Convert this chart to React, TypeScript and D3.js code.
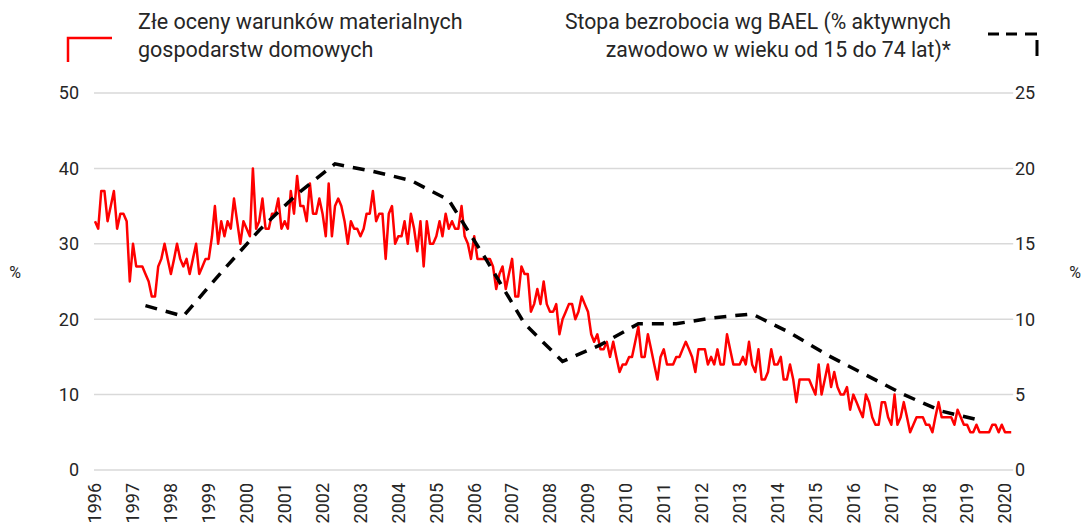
import * as d3 from "d3";
import { useEffect, useRef } from "react";

// monthly, Jan 1996 .. Mar 2020 (% of households rating their material situation as bad)
const badRatings: number[] = [
  33, 32, 37, 37, 33, 35, 37, 32, 34, 34, 33, 25,
  30, 27, 27, 27, 26, 25, 23, 23, 27, 28, 30, 28,
  26, 28, 30, 28, 27, 28, 26, 28, 30, 26, 27, 28,
  28, 31, 35, 30, 33, 31, 33, 32, 36, 33, 30, 33,
  32, 31, 40, 32, 33, 36, 32, 32, 34, 34, 36, 32,
  33, 32, 37, 34, 39, 35, 35, 33, 38, 34, 34, 36,
  34, 31, 38, 31, 35, 36, 35, 33, 30, 33, 32, 32,
  31, 32, 34, 34, 37, 33, 34, 34, 28, 34, 35, 30,
  31, 31, 33, 30, 34, 32, 29, 33, 27, 33, 30, 30,
  31, 33, 31, 34, 32, 33, 32, 32, 35, 31, 30, 28,
  31, 28, 28, 28, 28, 28, 27, 24, 26, 27, 24, 26,
  28, 23, 23, 27, 26, 26, 21, 22, 24, 22, 25, 22,
  21, 21, 22, 18, 20, 21, 22, 22, 20, 21, 23, 22,
  21, 18, 17, 18, 16, 16, 17, 15, 17, 15, 13, 14,
  14, 15, 15, 17, 19, 15, 15, 18, 16, 14, 12, 15,
  16, 14, 14, 14, 15, 15, 16, 17, 16, 15, 13, 16,
  16, 16, 14, 15, 14, 16, 14, 14, 18, 16, 14, 14,
  14, 15, 14, 17, 14, 13, 16, 12, 12, 13, 16, 14,
  14, 15, 12, 12, 14, 12, 9, 12, 12, 12, 12, 11,
  10, 14, 10, 12, 14, 11, 13, 11, 10, 10, 11, 8,
  10, 9, 8, 7, 10, 9, 7, 6, 6, 9, 9, 7,
  6, 10, 6, 7, 9, 7, 5, 6, 7, 7, 7, 6,
  6, 5, 7, 9, 7, 7, 7, 7, 6, 8, 7, 6,
  6, 5, 5, 6, 5, 5, 5, 5, 6, 6, 5, 6,
  5, 5, 5,
];

// annual LFS (BAEL) unemployment rate, %
const lfsYears = [1997, 1998, 1999, 2000, 2001, 2002, 2003, 2004, 2005, 2006, 2007, 2008, 2009, 2010, 2011, 2012, 2013, 2014, 2015, 2016, 2017, 2018, 2019];
const lfsRate = [10.9, 10.2, 13.1, 15.9, 18.3, 20.3, 19.8, 19.2, 17.9, 13.9, 9.7, 7.2, 8.3, 9.7, 9.7, 10.1, 10.35, 9.1, 7.6, 6.3, 5.0, 3.9, 3.3];

const yearTicks = d3.range(1996, 2021);
const leftTicks = [0, 10, 20, 30, 40, 50];
const rightTicks = [0, 5, 10, 15, 20, 25];

const legendLeft = ["Złe oceny warunków materialnych", "gospodarstw domowych"];
const legendRight = ["Stopa bezrobocia wg BAEL (% aktywnych", "zawodowo w wieku od 15 do 74 lat)*"];

const W = 1082;
const H = 524;
const FONT = "Roboto, 'Noto Sans', sans-serif";
const TEXT = "#262626";

export default function App() {
  const ref = useRef<SVGSVGElement | null>(null);

  useEffect(() => {
    if (!ref.current) return;
    const svg = d3.select(ref.current);
    svg.selectAll("*").remove();

    const x = d3
      .scaleTime()
      .domain([new Date(1996, 0, 1), new Date(2020, 0, 1)])
      .range([95, 1005]);
    const yL = d3.scaleLinear().domain([0, 50]).range([470, 93]);
    const yR = d3.scaleLinear().domain([0, 25]).range([470, 93]);

    const monthly = badRatings.map((v, i) => ({ date: new Date(1996, i, 1), v }));
    const annual = lfsYears.map((yr, i) => ({ date: new Date(yr, 4, 1), v: lfsRate[i] }));

    const gridX1 = x(new Date(1996, 0, 1)) - 1;
    const gridX2 = x(new Date(2020, 2, 20));

    // grid
    svg
      .append("g")
      .selectAll("line")
      .data(leftTicks)
      .join("line")
      .attr("x1", gridX1)
      .attr("x2", gridX2)
      .attr("y1", (d) => yL(d))
      .attr("y2", (d) => yL(d))
      .attr("stroke", "#d9d9d9")
      .attr("stroke-width", 1.5);

    // left axis labels
    svg
      .append("g")
      .selectAll("text")
      .data(leftTicks)
      .join("text")
      .attr("x", 79)
      .attr("y", (d) => yL(d))
      .attr("dy", "0.35em")
      .attr("text-anchor", "end")
      .text((d) => d)
      .style("font", `18px ${FONT}`)
      .style("fill", TEXT);

    // right axis labels
    svg
      .append("g")
      .selectAll("text")
      .data(rightTicks)
      .join("text")
      .attr("x", 1015)
      .attr("y", (d) => yR(d))
      .attr("dy", "0.35em")
      .attr("text-anchor", "start")
      .text((d) => d)
      .style("font", `18px ${FONT}`)
      .style("fill", TEXT);

    // year labels
    svg
      .append("g")
      .selectAll("text")
      .data(yearTicks)
      .join("text")
      .attr("transform", (d) => `translate(${x(new Date(d, 0, 1))},483) rotate(-90)`)
      .attr("dy", "0.35em")
      .attr("text-anchor", "end")
      .text((d) => d)
      .style("font", `18px ${FONT}`)
      .style("fill", TEXT);

    // % labels
    [15, 1075].forEach((px) => {
      svg
        .append("text")
        .attr("x", px)
        .attr("y", 272)
        .attr("dy", "0.35em")
        .attr("text-anchor", "middle")
        .text("%")
        .style("font", `16px ${FONT}`)
        .style("fill", TEXT);
    });

    const lineL = d3
      .line<{ date: Date; v: number }>()
      .x((d) => x(d.date))
      .y((d) => yL(d.v));
    const lineR = d3
      .line<{ date: Date; v: number }>()
      .x((d) => x(d.date))
      .y((d) => yR(d.v));

    svg
      .append("path")
      .datum(monthly)
      .attr("fill", "none")
      .attr("stroke", "#ff0000")
      .attr("stroke-width", 2.5)
      .attr("stroke-linejoin", "round")
      .attr("d", lineL);

    svg
      .append("path")
      .datum(annual)
      .attr("fill", "none")
      .attr("stroke", "#000")
      .attr("stroke-width", 3.5)
      .attr("stroke-dasharray", "12,9")
      .attr("d", lineR);

    // legend
    svg
      .append("path")
      .attr("d", "M68,62 L68,38 L112,38")
      .attr("fill", "none")
      .attr("stroke", "#ff0000")
      .attr("stroke-width", 2.5);
    svg
      .append("path")
      .attr("d", "M988,34 L1037,34 L1037,57")
      .attr("fill", "none")
      .attr("stroke", "#000")
      .attr("stroke-width", 3)
      .attr("stroke-dasharray", "11,7,11,8,12,6,16,20");

    legendLeft.forEach((t, i) => {
      svg
        .append("text")
        .attr("x", 138)
        .attr("y", 29 + i * 28)
        .text(t)
        .style("font", `21.5px ${FONT}`)
        .style("fill", TEXT);
    });
    legendRight.forEach((t, i) => {
      svg
        .append("text")
        .attr("x", 951)
        .attr("y", 29 + i * 28)
        .attr("text-anchor", "end")
        .text(t)
        .style("font", `21.2px ${FONT}`)
        .style("fill", TEXT);
    });
  }, []);

  return (
    <svg
      ref={ref}
      width={W}
      height={H}
      style={{ position: "absolute", left: 0, top: 0, background: "#fff", display: "block" }}
      role="img"
      aria-label="Złe oceny warunków materialnych gospodarstw domowych i stopa bezrobocia BAEL"
    />
  );
}
